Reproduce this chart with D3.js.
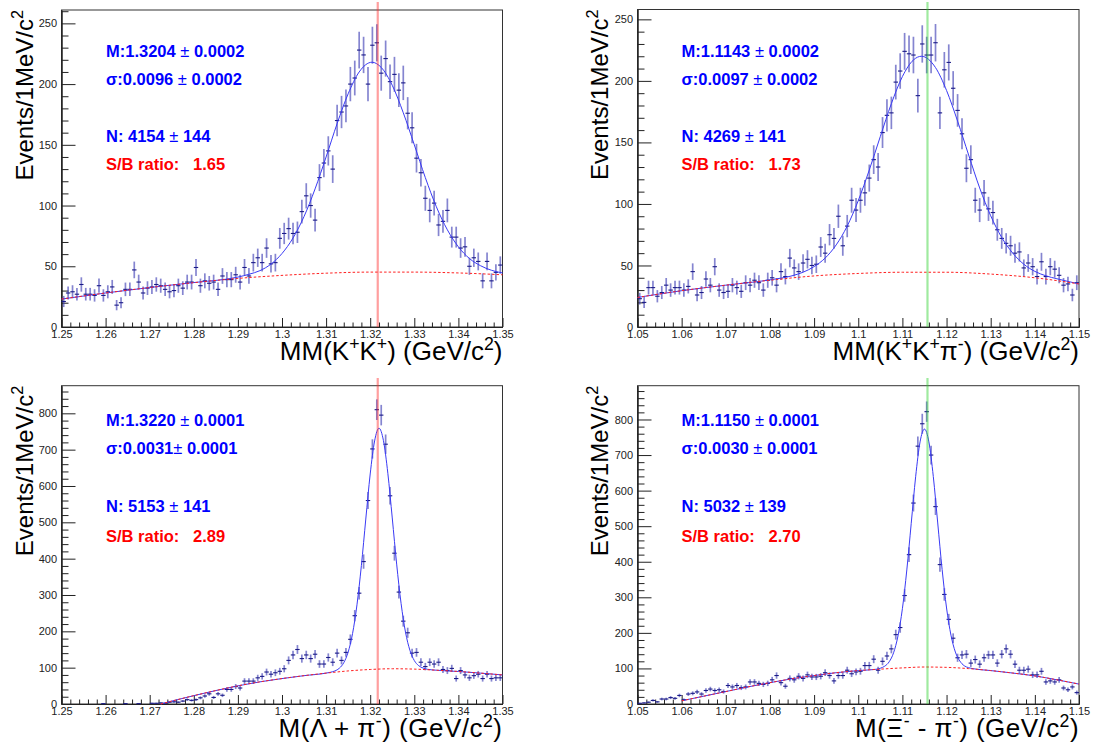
<!DOCTYPE html>
<html><head><meta charset="utf-8">
<script src="https://cdn.jsdelivr.net/npm/d3@7"></script>
<style>
body{margin:0;background:#fff}
svg{display:block}
text{font-family:"Liberation Sans",Arial,Helvetica,sans-serif}
.pre{white-space:pre}
</style>
</head><body>
<svg id="c" width="1094" height="747"></svg>
<script>
// ---------------- DATA ----------------
const binWidth = 0.001;          // GeV per bin (1 MeV)
const rangeXi = [1.25, 1.35];
const rangeLambda = [1.05, 1.15];
const xiMass = 1.32171;
const lambdaMass = 1.115683;

const xTickLabelsXi = ["1.25","1.26","1.27","1.28","1.29","1.3","1.31","1.32","1.33","1.34","1.35"];
const xTickLabelsLambda = ["1.05","1.06","1.07","1.08","1.09","1.1","1.11","1.12","1.13","1.14","1.15"];
const yTickLabelsTop = ["0","50","100","150","200","250"];
const yTickLabelsBottom = ["0","100","200","300","400","500","600","700","800"];

// Top-left: MM(K+K+)
const countsKK = [21,28,29,27,35,27,27,26,34,26, 29,33,18,20,31,31,47,37,28,32,
  33,35,34,31,29,30,34,32,37,37, 49,34,38,36,37,31,42,39,39,43,
  37,49,42,53,57,53,65,52,53,73, 77,81,77,78,95,108,100,88,123,135,
  145,130,170,177,182,200,205,228,224,200, 232,234,209,221,202,208,195,201,176,164,
  139,127,106,96,102,84,87,96,74,74, 65,66,50,57,54,38,54,38,45,51];
const fitKK = [[1.25,23],[1.26,28],[1.27,32.5],[1.28,36.6],[1.29,41.1],[1.2925,43.4],[1.295,46.4],[1.2975,51.8],
  [1.30,60.5],[1.3025,73.3],[1.305,91],[1.3075,113.7],[1.31,140],[1.3125,167.5],[1.315,192],[1.3175,210],
  [1.3204,218],[1.3225,213.7],[1.325,199],[1.3275,176.4],[1.33,150],[1.3325,123],[1.335,99],[1.3375,80],
  [1.34,66],[1.3425,56.4],[1.345,50.5],[1.3475,46.7],[1.35,44.5]];
const bkgKK = [[1.25,23],[1.26,28],[1.27,32.5],[1.28,36.5],[1.29,40],[1.30,42.5],[1.31,44.3],[1.32,45.2],
  [1.33,45.2],[1.34,44.5],[1.35,43]];
const statsKK = ["1.3204","0.0002","0.0096","0.0002","4154","144","1.65"];

// Top-right: MM(K+K+pi-)
const countsKKpi = [23,20,32,32,25,28,34,30,32,32, 30,33,45,26,28,39,34,49,30,28,
  29,34,32,29,36,34,38,36,30,38, 40,34,45,41,56,48,45,52,55,50,
  51,65,60,75,72,90,66,82,103,95, 103,109,121,136,130,158,172,174,199,208,
  224,222,221,188,230,221,221,231,174,209, 215,194,176,157,129,136,103,95,109,96,
  93,79,72,68,66,60,61,48,52,49, 41,53,41,49,47,42,34,35,26,36];
const fitKKpi = [[1.05,24],[1.06,29.5],[1.07,34],[1.08,38.3],[1.085,41.6],[1.0875,44.5],[1.09,49.1],[1.0925,56],
  [1.095,66.7],[1.0975,82],[1.10,102.7],[1.1025,127.6],[1.105,154.8],[1.1075,181.5],[1.11,203.5],[1.1125,217],
  [1.1143,220],[1.1175,210.8],[1.12,192.2],[1.1225,167.3],[1.125,139.8],[1.1275,113],[1.13,90.4],[1.1325,72.7],
  [1.135,60],[1.1375,51],[1.14,45.2],[1.1425,41.6],[1.145,39.2],[1.15,35]];
const bkgKKpi = [[1.05,24],[1.06,29.5],[1.07,34],[1.08,38],[1.09,41.5],[1.10,43.5],[1.11,44.5],[1.12,44.5],
  [1.13,43],[1.14,40],[1.15,35]];
const statsKKpi = ["1.1143","0.0002","0.0097","0.0002","4269","141","1.73"];

// Bottom-left: M(Lambda + pi-)
const countsLamPi = [0,0,0,0,0,0,0,0,0,1, 0,0,0,0,1,0,0,1,0,0,
  2,2,3,2,5,6,5,8,12,10, 12,17,22,28,18,28,24,40,40,48,
  44,63,63,63,72,76,88,82,86,90, 97,120,135,150,125,135,125,137,110,110,
  128,115,140,120,142,178,243,305,392,560, 702,810,795,715,573,415,308,228,196,140,
  142,115,103,115,110,115,95,92,98,70, 92,80,72,78,82,70,82,70,72,72];
const fitLamPi = [[1.2725,0],[1.275,8],[1.28,23],[1.285,37],[1.29,50],[1.295,61],[1.30,70],[1.305,78],[1.31,85],
  [1.311,87.4],[1.312,91],[1.313,98.4],[1.314,113.5],[1.315,142.8],[1.316,193.8],[1.317,273],[1.318,381],
  [1.319,509],[1.320,633],[1.321,724],[1.322,759],[1.323,725],[1.324,635],[1.325,512],[1.326,385],[1.327,277],
  [1.328,198],[1.329,148],[1.330,119.7],[1.331,105.4],[1.332,98.9],[1.333,95.5],[1.335,93],[1.34,89.5],
  [1.345,85],[1.35,80]];
const bkgLamPi = [[1.2725,0],[1.275,8],[1.28,23],[1.285,37],[1.29,50],[1.295,61],[1.30,70],[1.305,78],[1.31,85],
  [1.315,91],[1.32,95],[1.325,97],[1.33,96],[1.335,93],[1.34,89.5],[1.345,85],[1.35,80]];
const statsLamPi = ["1.3220","0.0001","0.0031","0.0001","5153","141","2.89"];

// Bottom-right: M(Xi- - pi-)
const countsXiPi = [2,3,5,10,6,14,14,18,16,24, 12,28,30,34,28,38,42,38,40,35,
  52,48,52,46,48,62,62,58,55,58, 68,80,60,50,72,68,78,72,82,76,
  76,78,88,80,65,80,80,95,85,90, 92,108,108,126,95,120,135,155,195,215,
  305,420,565,725,788,822,700,555,392,308, 238,185,130,138,140,115,125,112,130,138,
  138,115,140,155,140,112,95,95,98,82, 82,92,62,65,62,68,45,40,48,32];
const fitXiPi = [[1.06,9],[1.065,22],[1.07,35],[1.075,48],[1.08,60],[1.085,71],[1.09,80],[1.095,88],[1.10,94],
  [1.104,97.5],[1.105,100.6],[1.106,106.4],[1.107,118.6],[1.108,144],[1.109,191.5],[1.11,268],[1.111,377],
  [1.112,508],[1.113,639],[1.114,737],[1.115,773],[1.116,737],[1.117,639.5],[1.118,509],[1.119,378],[1.12,270],
  [1.121,193.5],[1.122,146],[1.123,121],[1.124,107.6],[1.125,102.1],[1.126,99.4],[1.13,94],[1.135,87],
  [1.14,79],[1.145,68],[1.15,56]];
const bkgXiPi = [[1.06,9],[1.065,22],[1.07,35],[1.075,48],[1.08,60],[1.085,71],[1.09,80],[1.095,88],[1.10,94],
  [1.105,98],[1.11,101.5],[1.115,104],[1.12,103],[1.125,99.5],[1.13,94],[1.135,87],[1.14,79],[1.145,68],[1.15,56]];
const statsXiPi = ["1.1150","0.0001","0.0030","0.0001","5032","139","2.70"];

// ---------------- LAYOUT ----------------
const panels = [
  {counts:countsKK, fit:fitKK, bkg:bkgKK, stats:statsKK, range:rangeXi, xLabels:xTickLabelsXi,
   yLabels:yTickLabelsTop, yMinorStep:10, refMass:xiMass, refColor:"#ff2a2a",
   left:61.5, right:502.5, top:10, bottom:327, yMax:261, refTop:2,
   textX:106, textY:[57,85,142,170], yTitleX:33, xTitleY:360, sigmaSpace:true, titleSpacing:0,
   xTitle:[["MM(K"],["+",1],["K"],["+",1],[") (GeV/c"],["2",1],[")"]]},
  {counts:countsKKpi, fit:fitKKpi, bkg:bkgKKpi, stats:statsKKpi, range:rangeLambda, xLabels:xTickLabelsLambda,
   yLabels:yTickLabelsTop, yMinorStep:10, refMass:lambdaMass, refColor:"#2ad02a",
   left:637.5, right:1079, top:9.5, bottom:327, yMax:258, refTop:2,
   textX:681.5, textY:[57,85,142,170], yTitleX:608, xTitleY:360, sigmaSpace:true, titleSpacing:0,
   xTitle:[["MM(K"],["+",1],["K"],["+",1],["\u03c0"],["-",1],[") (GeV/c"],["2",1],[")"]]},
  {counts:countsLamPi, fit:fitLamPi, bkg:bkgLamPi, stats:statsLamPi, range:rangeXi, xLabels:xTickLabelsXi,
   yLabels:yTickLabelsBottom, yMinorStep:20, refMass:xiMass, refColor:"#ff2a2a",
   left:61.5, right:502.5, top:385.7, bottom:704, yMax:876, refTop:378,
   textX:106, textY:[425.7,454,512.3,541.7], yTitleX:33, xTitleY:737, sigmaSpace:false, titleSpacing:0.5,
   xTitle:[["M(\u039b + \u03c0"],["-",1],[") (GeV/c"],["2",1],[")"]]},
  {counts:countsXiPi, fit:fitXiPi, bkg:bkgXiPi, stats:statsXiPi, range:rangeLambda, xLabels:xTickLabelsLambda,
   yLabels:yTickLabelsBottom, yMinorStep:20, refMass:lambdaMass, refColor:"#2ad02a",
   left:637.5, right:1079, top:385.7, bottom:704, yMax:895, refTop:378,
   textX:681.5, textY:[425.7,454,512.3,541.7], yTitleX:608, xTitleY:737, sigmaSpace:true, titleSpacing:0.45,
   xTitle:[["M(\u039e"],["-",1],[" - \u03c0"],["-",1],[") (GeV/c"],["2",1],[")"]]}
];

const svg = d3.select("#c");

function rich(sel, parts, fs) {
  let shifted = false;
  parts.forEach(p => {
    const t = sel.append("tspan").text(p[0]);
    if (p[1]) { t.attr("font-size", fs*0.68).attr("dy", shifted ? 0 : -fs*0.4); shifted = true; }
    else { t.attr("font-size", fs).attr("dy", shifted ? fs*0.4 : 0); shifted = false; }
  });
}

panels.forEach(P => {
  const g = svg.append("g");
  const x = d3.scaleLinear().domain(P.range).range([P.left, P.right]);
  const y = d3.scaleLinear().domain([0, P.yMax]).range([P.bottom, P.top]);

  // frame
  g.append("rect").attr("x",P.left).attr("y",P.top).attr("width",P.right-P.left).attr("height",P.bottom-P.top)
    .attr("fill","none").attr("stroke","#333").attr("stroke-width",1);

  // x axis
  const xMajor = P.xLabels.map(s => +s);
  const xMinor = d3.range(0, 51).map(i => P.range[0] + i*0.002).filter((v,i) => i % 5 !== 0);
  const gxm = g.append("g").attr("transform",`translate(0,${P.bottom})`)
    .call(d3.axisBottom(x).tickValues(xMinor).tickSize(-4.5).tickSizeOuter(0).tickFormat(""));
  const gx = g.append("g").attr("transform",`translate(0,${P.bottom})`)
    .call(d3.axisBottom(x).tickValues(xMajor).tickSize(-9).tickSizeOuter(0).tickPadding(3.5)
      .tickFormat((d,i) => P.xLabels[i]));
  gx.selectAll("text").attr("font-size",11).attr("fill","#222").attr("font-family",null);

  // y axis
  const yMajor = P.yLabels.map(s => +s);
  const yMinor = d3.range(0, P.yMax, P.yMinorStep).filter(v => !yMajor.includes(v));
  const gym = g.append("g").attr("transform",`translate(${P.left},0)`)
    .call(d3.axisLeft(y).tickValues(yMinor).tickSize(-7).tickSizeOuter(0).tickFormat(""));
  const gy = g.append("g").attr("transform",`translate(${P.left},0)`)
    .call(d3.axisLeft(y).tickValues(yMajor).tickSize(-14).tickSizeOuter(0).tickPadding(4.5)
      .tickFormat((d,i) => P.yLabels[i]));
  gy.selectAll("text").attr("font-size",11).attr("fill","#222").attr("font-family",null);
  [gx,gxm,gy,gym].forEach(a => { a.selectAll(".domain").attr("stroke","#222"); a.selectAll("line").attr("stroke","#222"); });

  // data points
  const pts = g.append("g");
  P.counts.forEach((n,i) => {
    if (n <= 0) return;
    const xc = P.range[0] + (i+0.5)*binWidth;
    const e = Math.sqrt(n);
    pts.append("line").attr("x1",x(xc)).attr("x2",x(xc)).attr("y1",y(n-e)).attr("y2",y(Math.min(n+e,P.yMax)))
      .attr("stroke","#3434b0").attr("stroke-width",1.7).attr("stroke-opacity",0.6);
    pts.append("line").attr("x1",x(xc-binWidth/2)).attr("x2",x(xc+binWidth/2)).attr("y1",y(n)).attr("y2",y(n))
      .attr("stroke","#1a1a86").attr("stroke-width",1.1);
  });

  // fit curves
  const line = d3.line().x(d => x(d[0])).y(d => y(d[1])).curve(d3.curveMonotoneX);
  g.append("path").attr("d",line(P.fit)).attr("fill","none").attr("stroke","#3a3af5").attr("stroke-width",1);
  g.append("path").attr("d",line(P.bkg)).attr("fill","none").attr("stroke","#ff2020").attr("stroke-width",1)
    .attr("stroke-dasharray","2.5,2");

  // reference mass line
  g.append("line").attr("x1",x(P.refMass)).attr("x2",x(P.refMass)).attr("y1",y(0)).attr("y2",P.refTop)
    .attr("stroke",P.refColor).attr("stroke-opacity",0.45).attr("stroke-width",2.2);

  // stats text
  const s = P.stats, fs = 16.5;
  const mk = (yy, color, parts) => {
    const t = g.append("text").attr("class","pre").attr("x",P.textX).attr("y",yy).attr("fill",color)
      .attr("font-size",fs).attr("font-weight","bold");
    parts.forEach(p => { const ts = t.append("tspan").text(p[0]); if (p[1]) ts.attr("font-weight","normal"); });
  };
  mk(P.textY[0], "#0000ff", [["M:"+s[0]+" "],["\u00b1",1],[" "+s[1]]]);
  mk(P.textY[1], "#0000ff", [["\u03c3:"+s[2]+(P.sigmaSpace?" ":"")],["\u00b1",1],[" "+s[3]]]);
  mk(P.textY[2], "#0000ff", [["N: "+s[4]+" "],["\u00b1",1],[" "+s[5]]]);
  mk(P.textY[3], "#ff0000", [["S/B ratio:   "+s[6]]]);

  // axis titles
  const xt = g.append("text").attr("x",P.right).attr("y",P.xTitleY).attr("text-anchor","end")
    .attr("fill","#000").attr("class","pre").attr("letter-spacing",P.titleSpacing);
  rich(xt, P.xTitle, 26);
  const yt = g.append("text").attr("transform",`translate(${P.yTitleX},${P.top}) rotate(-90)`)
    .attr("text-anchor","end").attr("fill","#000");
  rich(yt, [["Events/1MeV/c"],["2",1]], 24);
});
</script>
</body></html>
